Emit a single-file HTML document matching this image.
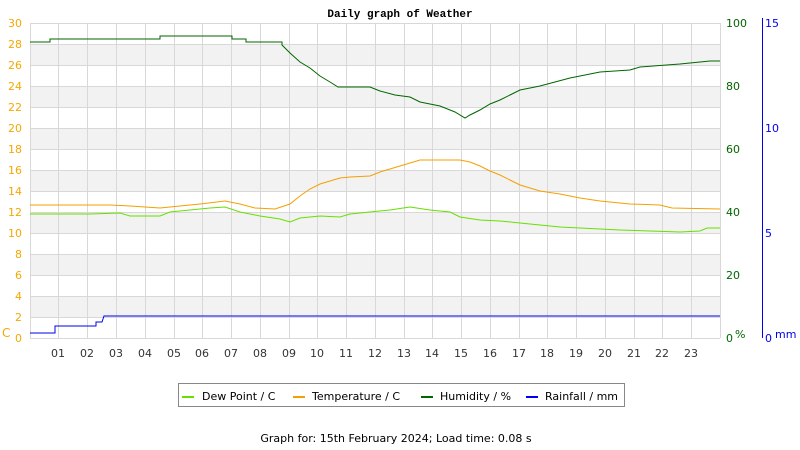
<!DOCTYPE html>
<html><head><meta charset="utf-8"><style>
body{margin:0;background:#fff;}
svg{display:block;font-family:"DejaVu Sans","Liberation Sans",sans-serif;}
</style></head><body>
<svg width="800" height="450" viewBox="0 0 800 450">
<rect width="800" height="450" fill="#fff"/>
<text x="400" y="17" font-size="11" font-family="Liberation Mono, monospace" font-weight="bold" text-anchor="middle" fill="#000">Daily graph of Weather</text>
<g fill="#f2f2f2">
<rect x="30" y="44" width="690" height="21"/><rect x="30" y="86" width="690" height="21"/>
<rect x="30" y="128" width="690" height="21"/><rect x="30" y="170" width="690" height="21"/>
<rect x="30" y="212" width="690" height="21"/><rect x="30" y="254" width="690" height="21"/>
<rect x="30" y="296" width="690" height="21"/>
</g>
<g stroke="#d8d8d8" stroke-width="1">
<line x1="30" y1="23.5" x2="720" y2="23.5"/><line x1="30" y1="44.5" x2="720" y2="44.5"/><line x1="30" y1="65.5" x2="720" y2="65.5"/><line x1="30" y1="86.5" x2="720" y2="86.5"/><line x1="30" y1="107.5" x2="720" y2="107.5"/><line x1="30" y1="128.5" x2="720" y2="128.5"/><line x1="30" y1="149.5" x2="720" y2="149.5"/><line x1="30" y1="170.5" x2="720" y2="170.5"/><line x1="30" y1="191.5" x2="720" y2="191.5"/><line x1="30" y1="212.5" x2="720" y2="212.5"/><line x1="30" y1="233.5" x2="720" y2="233.5"/><line x1="30" y1="254.5" x2="720" y2="254.5"/><line x1="30" y1="275.5" x2="720" y2="275.5"/><line x1="30" y1="296.5" x2="720" y2="296.5"/><line x1="30" y1="317.5" x2="720" y2="317.5"/><line x1="30" y1="338.5" x2="720" y2="338.5"/>
<line x1="30.5" y1="23" x2="30.5" y2="338"/><line x1="720.5" y1="23" x2="720.5" y2="338"/>
<line x1="58.5" y1="23" x2="58.5" y2="338"/><line x1="87.5" y1="23" x2="87.5" y2="338"/><line x1="116.5" y1="23" x2="116.5" y2="338"/><line x1="145.5" y1="23" x2="145.5" y2="338"/><line x1="174.5" y1="23" x2="174.5" y2="338"/><line x1="202.5" y1="23" x2="202.5" y2="338"/><line x1="231.5" y1="23" x2="231.5" y2="338"/><line x1="260.5" y1="23" x2="260.5" y2="338"/><line x1="289.5" y1="23" x2="289.5" y2="338"/><line x1="317.5" y1="23" x2="317.5" y2="338"/><line x1="346.5" y1="23" x2="346.5" y2="338"/><line x1="375.5" y1="23" x2="375.5" y2="338"/><line x1="404.5" y1="23" x2="404.5" y2="338"/><line x1="432.5" y1="23" x2="432.5" y2="338"/><line x1="461.5" y1="23" x2="461.5" y2="338"/><line x1="490.5" y1="23" x2="490.5" y2="338"/><line x1="519.5" y1="23" x2="519.5" y2="338"/><line x1="547.5" y1="23" x2="547.5" y2="338"/><line x1="576.5" y1="23" x2="576.5" y2="338"/><line x1="605.5" y1="23" x2="605.5" y2="338"/><line x1="634.5" y1="23" x2="634.5" y2="338"/><line x1="662.5" y1="23" x2="662.5" y2="338"/><line x1="691.5" y1="23" x2="691.5" y2="338"/>
</g>
<g font-size="11" fill="#f5a800" text-anchor="end">
<text x="22" y="27">30</text><text x="22" y="48">28</text><text x="22" y="69">26</text><text x="22" y="90">24</text><text x="22" y="111">22</text><text x="22" y="132">20</text><text x="22" y="153">18</text><text x="22" y="174">16</text><text x="22" y="195">14</text><text x="22" y="216">12</text><text x="22" y="237">10</text><text x="22" y="258">8</text><text x="22" y="279">6</text><text x="22" y="300">4</text><text x="22" y="321">2</text><text x="22" y="342">0</text>
</g>
<text x="2" y="337" font-size="12" fill="#f5a800">C</text>
<g font-size="11" fill="#006600">
<text x="726" y="27">100</text><text x="726" y="90">80</text><text x="726" y="153">60</text><text x="726" y="216">40</text><text x="726" y="279">20</text><text x="726" y="342">0</text><text x="735" y="338">%</text>
</g>
<line x1="762.5" y1="18" x2="762.5" y2="338" stroke="#0000ee"/>
<g font-size="11" fill="#0000ee">
<text x="765" y="27">15</text><text x="765" y="132">10</text><text x="765" y="237">5</text><text x="765" y="342">0</text><text x="775" y="338">mm</text>
</g>
<g font-size="11" fill="#333" text-anchor="middle">
<text x="58" y="357">01</text><text x="87" y="357">02</text><text x="116" y="357">03</text><text x="145" y="357">04</text><text x="174" y="357">05</text><text x="202" y="357">06</text><text x="231" y="357">07</text><text x="260" y="357">08</text><text x="289" y="357">09</text><text x="317" y="357">10</text><text x="346" y="357">11</text><text x="375" y="357">12</text><text x="404" y="357">13</text><text x="432" y="357">14</text><text x="461" y="357">15</text><text x="490" y="357">16</text><text x="519" y="357">17</text><text x="547" y="357">18</text><text x="576" y="357">19</text><text x="605" y="357">20</text><text x="634" y="357">21</text><text x="662" y="357">22</text><text x="691" y="357">23</text>
</g>
<polyline fill="none" stroke="#0000ee" points="30,333 55,333 55,326 96,326 96,322 102,322 104,316 720,316"/>
<polyline fill="none" stroke="#66e000" points="30,214 90,214 120,213 130,216 160,216 170,212 190,210 210,208 225,207 240,212 260,216 280,219 290,222 300,218 320,216 340,217 350,214 370,212 390,210 410,207 430,210 450,212 460,217 480,220 500,221 520,223 540,225 560,227 580,228 600,229 620,230 650,231 680,232 700,231 707,228 720,228"/>
<polyline fill="none" stroke="#f5a000" points="30,205 110,205 130,206 160,208 200,204 225,201 240,204 255,208 275,209 290,204 300,196 310,189 320,184 330,181 340,178 350,177 370,176 380,172 390,169 400,166 410,163 420,160 440,160 460,160 470,162 480,166 490,171 500,175 510,180 520,185 530,188 540,191 560,194 580,198 600,201 630,204 660,205 672,208 720,209"/>
<polyline fill="none" stroke="#006600" points="30,42 50,42 50,39 160,39 160,36 232,36 232,39 246,39 246,42 270,42 282,42 282,45 290,53 300,62 310,68 320,76 330,82 338,87 370,87 380,91 395,95 410,97 420,102 440,106 455,112 465,118 470,115 480,110 490,104 500,100 510,95 520,90 530,88 540,86 555,82 570,78 585,75 600,72 630,70 640,67 680,64 710,61 720,61"/>
<rect x="178.5" y="383.5" width="446" height="23" fill="#fff" stroke="#888"/>
<g stroke-width="2"><line x1="182" y1="397" x2="194" y2="397" stroke="#66e000"/><line x1="293" y1="397" x2="305" y2="397" stroke="#f5a000"/><line x1="421" y1="397" x2="433" y2="397" stroke="#006600"/><line x1="526" y1="397" x2="538" y2="397" stroke="#0000ee"/></g>
<g font-size="11" fill="#000">
<text x="202" y="400">Dew Point / C</text><text x="312" y="400">Temperature / C</text><text x="440" y="400">Humidity / %</text><text x="545" y="400">Rainfall / mm</text>
</g>
<text x="396" y="442" font-size="11" text-anchor="middle" fill="#000">Graph for: 15th February 2024; Load time: 0.08 s</text>
</svg>
</body></html>
